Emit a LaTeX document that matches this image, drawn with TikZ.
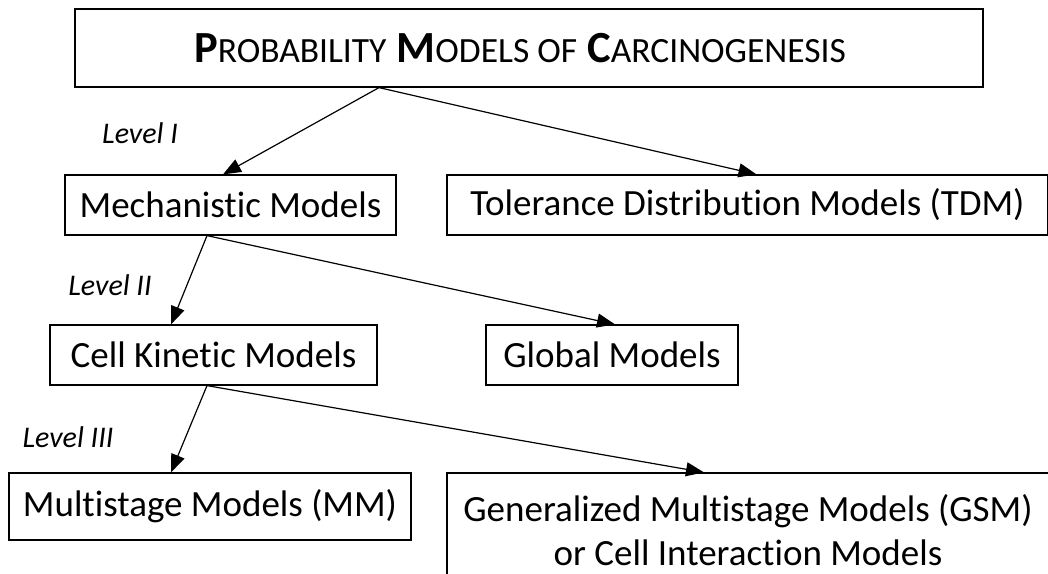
\documentclass[tikz,border=0pt]{standalone}
\usepackage{fontspec}
\setmainfont{Carlito}[Ligatures={NoCommon}]
\usetikzlibrary{arrows.meta}
\newcommand{\bigsc}[2]{{\bfseries #1}{\fontsize{35.5}{40}\selectfont #2}}
\begin{document}
\begin{tikzpicture}[x=1pt,y=-1pt,
  box/.style={draw, line width=1.2pt, inner sep=0pt, align=center,
    font=\fontsize{37}{44}\selectfont},
  lvl/.style={font=\fontsize{30}{36}\selectfont\itshape},
  arr/.style={line width=1.2pt, -{Triangle[length=18pt,width=14pt]}}]
\useasboundingbox (0,0) rectangle (1048,573);
\begin{scope}
\clip (0,0) rectangle (1048,573);
\node[box, minimum width=908pt, minimum height=78pt, font=\fontsize{44.5}{52}\selectfont] (top) at (529,48)
  {\bigsc{P}{ROBABILITY} \bigsc{M}{ODELS OF} \bigsc{C}{ARCINOGENESIS}\hspace{18pt}};
\node[box, minimum width=331pt, minimum height=60pt] (mech) at (230.5,205) {Mechanistic Models};
\node[box, minimum width=601pt, minimum height=60pt] (tdm) at (747.5,205) {Tolerance Distribution Models (TDM)};
\node[box, minimum width=327pt, minimum height=60pt] (ck) at (213.5,355) {Cell Kinetic Models};
\node[box, minimum width=252pt, minimum height=60pt] (glob) at (612,355) {Global Models};
\node[box, minimum width=402pt, minimum height=67pt] (mm) at (210,506.5) {Multistage Models (MM)};
\node[box, minimum width=602pt, minimum height=114pt] (gsm) at (748,530) {Generalized Multistage Models (GSM)\\or Cell Interaction Models};
\end{scope}
\node[lvl] (l1) at (140,133) {Level I};
\node[lvl] (l2) at (110,285) {Level II};
\node[lvl] (l3) at (68,437) {Level III};
\draw[arr] ([xshift=-150pt]top.south) -- ([xshift=-7.5pt]mech.north);
\draw[arr] ([xshift=-150pt]top.south) -- ([xshift=9pt]tdm.north);
\draw[arr] ([xshift=-23.5pt]mech.south) -- ([xshift=-42.5pt]ck.north);
\draw[arr] ([xshift=-23.5pt]mech.south) -- ([xshift=3pt]glob.north);
\draw[arr] ([xshift=-6.5pt]ck.south) -- ([xshift=-39pt]mm.north);
\draw[arr] ([xshift=-6.5pt]ck.south) -- ([xshift=-44pt]gsm.north);
\end{tikzpicture}
\end{document}
